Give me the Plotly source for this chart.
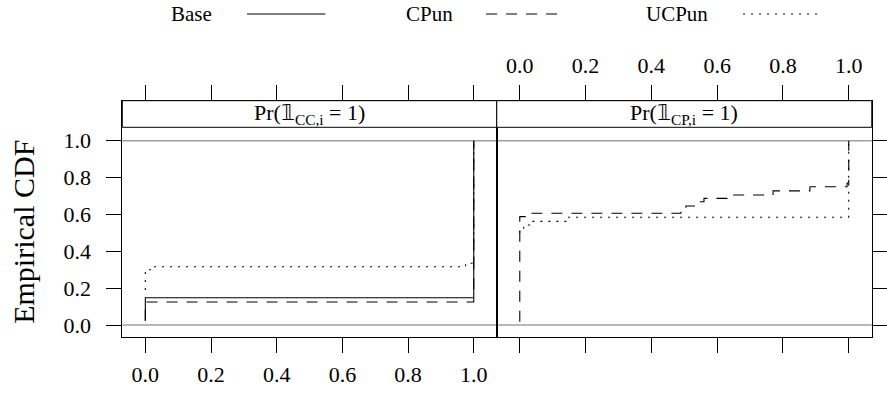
import plotly.graph_objects as go

# ---------------- data (step points of the empirical CDFs) ----------------
panel_titles = ["Pr(𝟙<sub>CC,i</sub> = 1)", "Pr(𝟙<sub>CP,i</sub> = 1)"]
series_names = ["Base", "CPun", "UCPun"]

cc_base_x = [0, 0, 1, 1]
cc_base_y = [0.023, 0.148, 0.148, 1.0]
cc_cpun_x = [0, 0, 1, 1]
cc_cpun_y = [0.023, 0.125, 0.125, 1.0]
cc_ucpun_x = [0, 0, 0.01, 0.025, 0.975, 1, 1]
cc_ucpun_y = [0.19, 0.29, 0.30, 0.316, 0.335, 0.335, 1.0]

cp_cpun_x = [0, 0, 0.023, 0.49, 0.505, 0.54, 0.56, 0.646, 0.77, 0.882, 0.995, 1, 1]
cp_cpun_y = [0.018, 0.588, 0.606, 0.627, 0.646, 0.669, 0.687, 0.705, 0.728, 0.75, 0.77, 0.77, 1.0]
cp_ucpun_x = [0, 0, 0.012, 0.03, 0.14, 1, 1]
cp_ucpun_y = [0.5, 0.525, 0.543, 0.562, 0.585, 0.585, 1.0]

tick_vals = [0, 0.2, 0.4, 0.6, 0.8, 1.0]
tick_text = ["0.0", "0.2", "0.4", "0.6", "0.8", "1.0"]

# ---------------- styling ----------------
W, H = 887, 394
FONT = "Liberation Serif"
dash_styles = {"Base": "solid", "CPun": "11px,9px", "UCPun": "2px,6px"}

def px_x(p):
    return p / W

def px_y(p):
    return 1 - p / H

left_x0, mid_x, right_x1 = 123.3, 500.7, 878.7
top_y, strip_y, bot_y = 100.7, 127.3, 337.3

xr = [-0.07, 1.07]
# y scale: 0 at 325px, 1 at 140.7px
ppu = 325 - 140.7
yr = [-(bot_y - 325) / ppu, (325 - top_y) / ppu]
strip_val = (325 - strip_y) / ppu

# y tick labels sit a little further from the ticks (en-space padding)
y_tick_text = [t + "\u2002" for t in tick_text]

fig = go.Figure()

def add(xs, ys, name, xa, ya):
    fig.add_trace(go.Scatter(
        x=xs, y=ys, mode="lines", name=name, showlegend=False,
        line=dict(color="black", width=1.1, dash=dash_styles[name], shape="hv"),
        xaxis=xa, yaxis=ya, hoverinfo="skip"))

add(cc_base_x, cc_base_y, "Base", "x", "y")
add(cc_cpun_x, cc_cpun_y, "CPun", "x", "y")
add(cc_ucpun_x, cc_ucpun_y, "UCPun", "x", "y")
add(cp_cpun_x, cp_cpun_y, "CPun", "x2", "y2")
add(cp_ucpun_x, cp_ucpun_y, "UCPun", "x2", "y2")

tickfont = dict(family=FONT, size=22, color="black")
common_x = dict(range=xr, tickvals=tick_vals, ticktext=tick_text, ticks="outside",
                ticklen=15, tickcolor="black", showline=True, linecolor="black",
                linewidth=1, showgrid=False, zeroline=False, tickfont=tickfont,
                mirror="ticks", fixedrange=True, ticklabelposition="outside")
common_y = dict(range=yr, tickvals=tick_vals, ticktext=y_tick_text, ticks="outside",
                ticklen=15, tickcolor="black", showline=True, linecolor="black",
                linewidth=1, showgrid=False, zeroline=False, tickfont=tickfont,
                fixedrange=True, ticklabelposition="outside")

fig.update_layout(
    width=W, height=H, autosize=False,
    margin=dict(l=0, r=0, t=0, b=0),
    paper_bgcolor="white", plot_bgcolor="white",
    xaxis=dict(domain=[px_x(left_x0), px_x(mid_x)], anchor="y", side="bottom",
               ticklabelstandoff=2, **common_x),
    yaxis=dict(domain=[px_y(bot_y), px_y(top_y)], anchor="x", side="left",
               mirror=True, **common_y),
    xaxis2=dict(domain=[px_x(mid_x), px_x(right_x1)], anchor="y2", side="top",
                ticklabelstandoff=3, **common_x),
    yaxis2=dict(domain=[px_y(bot_y), px_y(top_y)], anchor="x2", side="right",
                mirror=True, showticklabels=False, **common_y),
)

shapes = []
annotations = []
for i, (xa, ya) in enumerate([("x", "y"), ("x2", "y2")]):
    # grey reference lines at 0 and 1
    for v in (0, 1):
        shapes.append(dict(type="line", xref=f"{xa} domain", yref=ya, x0=0, x1=1,
                           y0=v, y1=v, line=dict(color="#a0a0a0", width=1.5),
                           layer="below"))
    # strip
    shapes.append(dict(type="rect", xref=f"{xa} domain", yref=ya, x0=0, x1=1,
                       y0=strip_val, y1=yr[1], line=dict(color="black", width=1),
                       fillcolor="white", layer="above"))
    annotations.append(dict(text=panel_titles[i], xref=f"{xa} domain", yref=ya,
                            x=0.5, y=(strip_val + yr[1]) / 2, showarrow=False,
                            font=dict(family=FONT, size=22, color="black"),
                            xanchor="center", yanchor="middle"))

# y-axis title
annotations.append(dict(text="Empirical CDF", xref="paper", yref="paper",
                        x=px_x(23), y=px_y(232), textangle=-90, showarrow=False,
                        font=dict(family=FONT, size=30, color="black"),
                        xanchor="center", yanchor="middle"))

# legend (text followed by line key)
legend_text_x = [193.5, 432.5, 682.5]
legend_line = [(249, 328), (490, 565), (749, 825)]
ly = 14
for name, tx, (l0, l1) in zip(series_names, legend_text_x, legend_line):
    annotations.append(dict(text=name, xref="paper", yref="paper", x=px_x(tx),
                            y=px_y(ly), showarrow=False, xanchor="center",
                            yanchor="middle",
                            font=dict(family=FONT, size=21, color="black")))
    shapes.append(dict(type="line", xref="paper", yref="paper", x0=px_x(l0),
                       x1=px_x(l1), y0=px_y(ly), y1=px_y(ly),
                       line=dict(color="black", width=1, dash=dash_styles[name])))

fig.update_layout(shapes=shapes, annotations=annotations)
fig.write_html("out.html", config={"displayModeBar": False},
               post_script="document.body.style.margin='0px';")
